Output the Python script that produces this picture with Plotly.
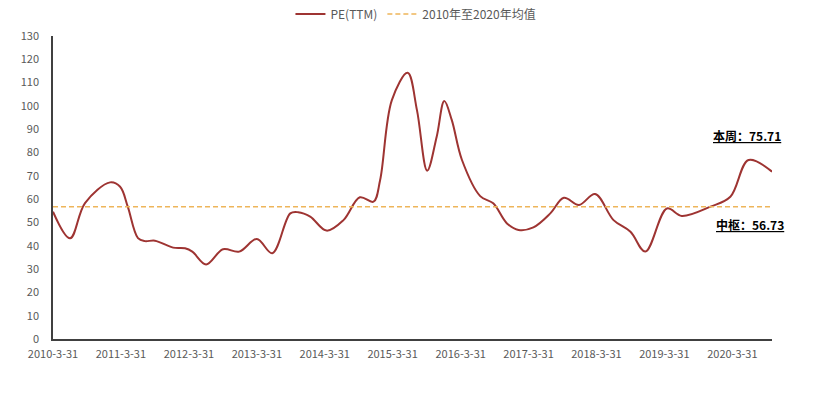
import plotly.graph_objects as go

dates = [
    "2010-03-31", "2010-07-01", "2010-09-19", "2011-02-01", "2011-03-27", "2011-05-07",
    "2011-07-01", "2011-08-07", "2011-09-30", "2012-01-06", "2012-03-10", "2012-04-18",
    "2012-07-01", "2012-09-30", "2012-12-26", "2013-03-31", "2013-06-22", "2013-09-27",
    "2013-11-08", "2014-01-12", "2014-04-10", "2014-07-10", "2014-10-06", "2014-12-18",
    "2015-01-23", "2015-03-27", "2015-06-20", "2015-08-09", "2015-10-03", "2015-11-23",
    "2016-01-03", "2016-02-12", "2016-04-07", "2016-07-14", "2016-09-22", "2016-12-05",
    "2017-02-05", "2017-04-26", "2017-07-26", "2017-10-07", "2017-12-27", "2018-03-24",
    "2018-07-01", "2018-09-30", "2018-12-19", "2019-04-14", "2019-07-03", "2019-12-04",
    "2020-03-20", "2020-06-26", "2020-10-30",
]
pe_ttm = [
    54.6, 43.2, 58.3, 67.2, 65.3, 56.8,
    43.3, 42.0, 42.2, 39.2, 38.9, 37.5,
    32.0, 38.5, 37.5, 42.9, 36.8, 53.9,
    54.4, 52.5, 46.5, 51.0, 60.8, 58.9,
    68.2, 102.5, 114.2, 98.2, 72.2, 86.8,
    102.1, 94.0, 76.8, 61.3, 58.2, 49.6,
    46.8, 47.9, 53.9, 60.6, 57.5, 62.2,
    51.0, 46.0, 37.5, 56.0, 52.8, 56.8,
    61.0, 76.8, 71.8,
]
mean_value = 56.73
current_value = 75.71
tick_dates = ["2010-03-31", "2011-03-31", "2012-03-31", "2013-03-31", "2014-03-31",
              "2015-03-31", "2016-03-31", "2017-03-31", "2018-03-31", "2019-03-31",
              "2020-03-31"]
tick_labels = ["2010-3-31", "2011-3-31", "2012-3-31", "2013-3-31", "2014-3-31",
               "2015-3-31", "2016-3-31", "2017-3-31", "2018-3-31", "2019-3-31",
               "2020-3-31"]
y_ticks = list(range(0, 131, 10))

font_main = "Noto Sans CJK SC"

fig = go.Figure()
fig.add_trace(go.Scatter(
    x=dates, y=pe_ttm, mode="lines", name="PE(TTM)",
    line=dict(color="#9E3432", width=2, shape="spline", smoothing=1.0),
))
fig.add_trace(go.Scatter(
    x=[dates[0], dates[-1]], y=[mean_value, mean_value], mode="lines",
    name="2010年至2020年均值",
    line=dict(color="#EEB55A", width=1.5, dash="5px,3px"),
))

fig.update_layout(
    width=814, height=398,
    margin=dict(l=53, r=42, t=36, b=59, autoexpand=False),
    paper_bgcolor="white", plot_bgcolor="white",
    font=dict(family=font_main, size=11, color="#595959"),
    showlegend=True,
    legend=dict(orientation="h", x=0.511, xanchor="center", xref="container",
                y=0.965, yanchor="middle", yref="container",
                font=dict(size=12, color="#595959"),
                bgcolor="rgba(0,0,0,0)"),
    xaxis=dict(
        type="date", range=[dates[0], dates[-1]],
        tickvals=tick_dates, ticktext=tick_labels,
        showgrid=False, zeroline=False,
        showline=True, linecolor="#404040", linewidth=1.5,
        ticks="", ticklabelstandoff=4,
        tickfont=dict(size=11, color="#595959"),
    ),
    yaxis=dict(
        range=[0, 130], tickvals=y_ticks,
        showgrid=False, zeroline=False,
        showline=True, linecolor="#404040", linewidth=1.5,
        ticks="", ticklabelstandoff=10,
        tickfont=dict(size=11, color="#595959"),
    ),
)

fig.add_annotation(
    x="2020-06-15", y=87.5, xref="x", yref="y",
    text=f"本周：{current_value:.2f}", showarrow=False,
    font=dict(family=font_main, size=12, color="#000000", weight="bold",
              lineposition="under"),
)
fig.add_annotation(
    x="2020-07-03", y=49.3, xref="x", yref="y",
    text=f"中枢：{mean_value:.2f}", showarrow=False,
    font=dict(family=font_main, size=12, color="#000000", weight="bold",
              lineposition="under"),
)

fig.write_html("out.html",
               config={"displayModeBar": False},
               post_script="document.body.style.margin='0';document.body.style.padding='0';")
